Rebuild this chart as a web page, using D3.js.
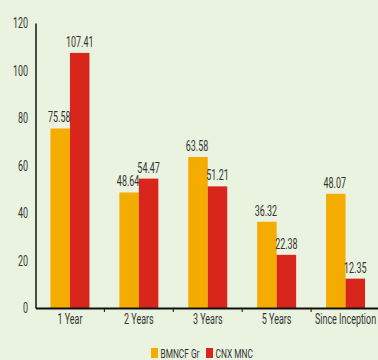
<!DOCTYPE html>
<html>
<head>
<meta charset="utf-8">
<script src="https://cdn.jsdelivr.net/npm/d3@7"></script>
<style>
  html, body { margin: 0; padding: 0; background: #eaf3e0; }
  svg { display: block; }
  text { font-family: "Roboto", "DejaVu Sans", sans-serif; fill: #333; }
</style>
</head>
<body>
<svg id="chart" width="378" height="360"></svg>
<script>
// Returns (%) by period
const categories = ["1 Year", "2 Years", "3 Years", "5 Years", "Since Inception"];
const seriesNames = ["BMNCF Gr", "CNX MNC"];
const fundValues = [75.58, 48.64, 63.58, 36.32, 48.07];
const indexValues = [107.41, 54.47, 51.21, 22.38, 12.35];
const yTicks = [0, 20, 40, 60, 80, 100, 120];
const colors = ["#f4ac00", "#d9261d"];

// horizontal squeeze for a condensed typeface look
const SX = 0.64;

const svg = d3.select("#chart");
const margin = { left: 35.5, right: -2, top: 23, bottom: 52 };
const W = 378, H = 360;

const x = d3.scaleBand()
  .domain(categories)
  .range([margin.left, W - margin.right])
  .paddingInner(0).paddingOuter(0);

const y = d3.scaleLinear()
  .domain([0, 120])
  .range([H - margin.bottom, margin.top]);

const sub = d3.scaleBand()
  .domain(seriesNames)
  .range([0, 39]);

const rows = categories.map((c, i) => ({ cat: c, vals: [fundValues[i], indexValues[i]] }));

// place a text at (px, py) squeezed horizontally
function squeeze(sel, px, py) {
  sel.attr("x", 0).attr("y", 0)
    .attr("transform", (d, i, n) => `translate(${px(d, i, n)},${py(d, i, n)}) scale(${SX},1)`);
}

// Bars
const groups = svg.append("g").selectAll("g")
  .data(rows).join("g")
  .attr("transform", d => `translate(${x(d.cat) + (x.bandwidth() - 39) / 2},0)`);

groups.selectAll("rect")
  .data(d => d.vals.map((v, j) => ({ name: seriesNames[j], v, j })))
  .join("rect")
  .attr("x", d => sub(d.name))
  .attr("width", sub.bandwidth())
  .attr("y", d => y(d.v))
  .attr("height", d => y(0) - y(d.v))
  .attr("fill", d => colors[d.j]);

// Value labels
groups.selectAll("text")
  .data(d => d.vals.map((v, j) => ({ name: seriesNames[j], v, j })))
  .join("text")
  .attr("text-anchor", "middle")
  .style("font-size", "14px")
  .text(d => d.v.toFixed(2))
  .call(squeeze, d => sub(d.name) + sub.bandwidth() / 2 - (d.j === 0 ? 1 : 0), d => y(d.v) - 6);

// Y axis
const yAxis = svg.append("g")
  .attr("transform", `translate(${margin.left},0)`)
  .call(d3.axisLeft(y).tickValues(yTicks).tickSize(0).tickPadding(8));
yAxis.select(".domain").attr("stroke", "#111").attr("stroke-width", 1.5);
yAxis.selectAll(".tick text")
  .style("font-size", "14px").attr("fill", "#333")
  .attr("dy", null).attr("dominant-baseline", "central")
  .call(squeeze, () => -7.5, () => 0);

// X axis
const xAxis = svg.append("g")
  .attr("transform", `translate(0,${y(0)})`)
  .call(d3.axisBottom(x).tickSize(0).tickPadding(10));
xAxis.select(".domain").attr("stroke", "#111").attr("stroke-width", 2.2);
xAxis.selectAll(".tick text")
  .style("font-size", "14px").attr("fill", "#333")
  .attr("dy", null)
  .call(squeeze, () => 0, () => 16);

// Tick marks at band boundaries
svg.append("g").selectAll("line")
  .data(categories.slice(1))
  .join("line")
  .attr("x1", d => x(d)).attr("x2", d => x(d))
  .attr("y1", y(0)).attr("y2", y(0) + 4)
  .attr("stroke", "#111").attr("stroke-width", 1);

// Legend
const legendX = [151, 206];
const legend = svg.append("g").selectAll("g")
  .data(seriesNames).join("g")
  .attr("transform", (d, i) => `translate(${legendX[i]},348)`);
legend.append("rect").attr("width", 7).attr("height", 10).attr("fill", (d, i) => colors[i]);
legend.append("text")
  .style("font-size", "13px")
  .text(d => d)
  .call(squeeze, () => 9.5, () => 9.5);
</script>
</body>
</html>
